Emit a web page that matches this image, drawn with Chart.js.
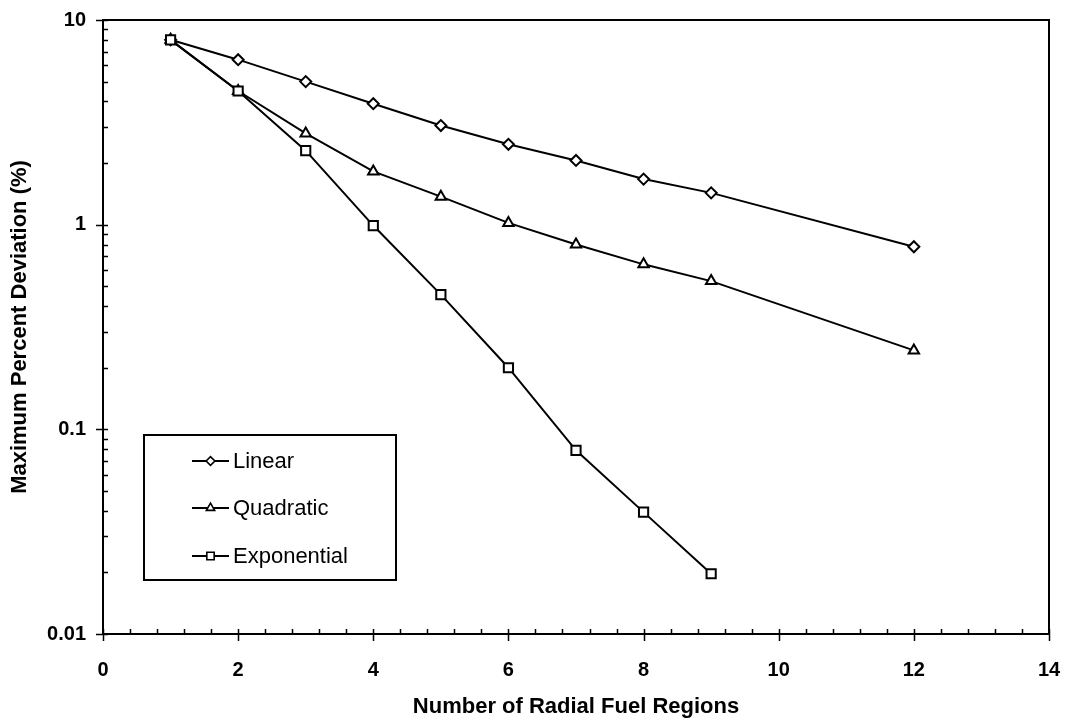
<!DOCTYPE html>
<html>
<head>
<meta charset="utf-8">
<script src="https://cdn.jsdelivr.net/npm/chart.js@4/dist/chart.umd.min.js"></script>
<style>
  html, body { margin: 0; padding: 0; background: #fff; }
  #wrap { width: 1066px; height: 721px; position: relative; }
</style>
</head>
<body>
<div id="wrap"><canvas id="c"></canvas></div>
<script>
// ---- data ----
const seriesNames = ['Linear', 'Quadratic', 'Exponential'];
const linRegions = [1, 2, 3, 4, 5, 6, 7, 8, 9, 12];
const linearDev = [8.0, 6.4, 5.0, 3.9, 3.05, 2.47, 2.06, 1.67, 1.43, 0.78];
const quadRegions = [1, 2, 3, 4, 5, 6, 7, 8, 9, 12];
const quadraticDev = [8.0, 4.5, 2.79, 1.82, 1.37, 1.02, 0.80, 0.64, 0.53, 0.243];
const expRegions = [1, 2, 3, 4, 5, 6, 7, 8, 9];
const exponentialDev = [8.0, 4.5, 2.3, 0.99, 0.455, 0.2, 0.079, 0.0394, 0.0197];

const xTicks = [0, 2, 4, 6, 8, 10, 12, 14];
const xTickLabels = ['0', '2', '4', '6', '8', '10', '12', '14'];
const yTicks = [0.01, 0.1, 1, 10];
const yTickLabels = ['0.01', '0.1', '1', '10'];

const xTitle = 'Number of Radial Fuel Regions';
const yTitle = 'Maximum Percent Deviation (%)';

const FONT = "'Liberation Sans', Arial, Helvetica, sans-serif";

function pts(xs, ys) { return xs.map((x, i) => ({ x: x, y: ys[i] })); }

const frameAndTicks = {
  id: 'frameAndTicks',
  afterDraw(chart) {
    const { ctx, chartArea: a, scales: { x, y } } = chart;
    ctx.save();
    ctx.strokeStyle = '#000';
    ctx.lineWidth = 2;
    ctx.strokeRect(a.left, a.top, a.right - a.left, a.bottom - a.top);
    ctx.lineWidth = 1.5;
    ctx.beginPath();
    // x ticks: majors cross the axis, minors point inward
    const xMinorStep = (xTicks[1] - xTicks[0]) / 5;
    for (let i = 0; i < xTicks.length; i++) {
      const px = Math.round(x.getPixelForValue(xTicks[i])) + 0.5;
      ctx.moveTo(px, a.bottom - 5); ctx.lineTo(px, a.bottom + 7);
      if (i < xTicks.length - 1) {
        for (let k = 1; k < 5; k++) {
          const mx = Math.round(x.getPixelForValue(xTicks[i] + k * xMinorStep)) + 0.5;
          ctx.moveTo(mx, a.bottom - 5); ctx.lineTo(mx, a.bottom);
        }
      }
    }
    // y ticks
    for (let i = 0; i < yTicks.length; i++) {
      const py = Math.round(y.getPixelForValue(yTicks[i])) + 0.5;
      ctx.moveTo(a.left - 7, py); ctx.lineTo(a.left + 5, py);
      if (i < yTicks.length - 1) {
        for (let m = 2; m <= 9; m++) {
          const my = Math.round(y.getPixelForValue(yTicks[i] * m)) + 0.5;
          ctx.moveTo(a.left, my); ctx.lineTo(a.left + 5, my);
        }
      }
    }
    ctx.stroke();

    // legend box
    const bx = 144, by = 435, bw = 252, bh = 145;
    ctx.fillStyle = '#fff';
    ctx.fillRect(bx, by, bw, bh);
    ctx.lineWidth = 2;
    ctx.strokeRect(bx, by, bw, bh);
    const rows = [461, 508, 556];
    ctx.font = '22px ' + FONT;
    ctx.textBaseline = 'middle';
    ctx.textAlign = 'left';
    chart.data.datasets.forEach((ds, i) => {
      const ry = rows[i];
      ctx.strokeStyle = '#000';
      ctx.lineWidth = 2;
      ctx.beginPath();
      ctx.moveTo(192, ry); ctx.lineTo(229, ry);
      ctx.stroke();
      ctx.fillStyle = '#fff';
      ctx.lineWidth = 1.6;
      Chart.helpers.drawPoint(ctx, {
        pointStyle: ds.pointStyle, radius: ds.pointRadius * 0.8, rotation: 0, borderWidth: 1.6
      }, 210.5, ry);
      ctx.fillStyle = '#000';
      ctx.fillText(ds.label, 233, ry + 1);
    });
    ctx.restore();
  }
};

const common = {
  borderColor: '#000', borderWidth: 2, pointBackgroundColor: '#fff',
  pointBorderColor: '#000', pointBorderWidth: 2, tension: 0, fill: false
};

new Chart(document.getElementById('c'), {
  type: 'line',
  data: {
    datasets: [
      Object.assign({ label: seriesNames[0], data: pts(linRegions, linearDev), pointStyle: 'rectRot', pointRadius: 5.5, order: 2 }, common),
      Object.assign({ label: seriesNames[1], data: pts(quadRegions, quadraticDev), pointStyle: 'triangle', pointRadius: 6, order: 1 }, common),
      Object.assign({ label: seriesNames[2], data: pts(expRegions, exponentialDev), pointStyle: 'rect', pointRadius: 6.5, order: 0 }, common)
    ]
  },
  options: {
    responsive: true, maintainAspectRatio: false, animation: false,
    devicePixelRatio: 1,
    layout: { padding: { left: 0, top: 20, right: 17, bottom: 0 } },
    plugins: { legend: { display: false }, tooltip: { enabled: false } },
    scales: {
      x: {
        type: 'linear', min: 0, max: 14,
        grid: { display: false, drawTicks: false },
        border: { display: false },
        afterBuildTicks: s => { s.ticks = xTicks.map(v => ({ value: v })); },
        afterFit: s => { s.height = 87; s.paddingLeft = 0; s.paddingRight = 0; },
        ticks: { color: '#000', padding: 24, maxRotation: 0, font: { family: FONT, size: 20, weight: 'bold' },
                 callback: (v, i) => xTickLabels[i] },
        title: { display: true, text: xTitle, color: '#000', padding: { top: 0, bottom: 1 },
                 font: { family: FONT, size: 22, weight: 'bold' } }
      },
      y: {
        type: 'logarithmic', min: 0.01, max: 10,
        grid: { display: false, drawTicks: false },
        border: { display: false },
        afterBuildTicks: s => { s.ticks = yTicks.map(v => ({ value: v })); },
        afterFit: s => { s.width = 103; s.paddingTop = 0; s.paddingBottom = 0; },
        ticks: { color: '#000', padding: 17, font: { family: FONT, size: 20, weight: 'bold' },
                 callback: (v, i) => yTickLabels[i] },
        title: { display: true, text: yTitle, color: '#000', padding: { top: 7, bottom: 0 },
                 font: { family: FONT, size: 22, weight: 'bold' } }
      }
    }
  },
  plugins: [frameAndTicks]
});
</script>
</body>
</html>
